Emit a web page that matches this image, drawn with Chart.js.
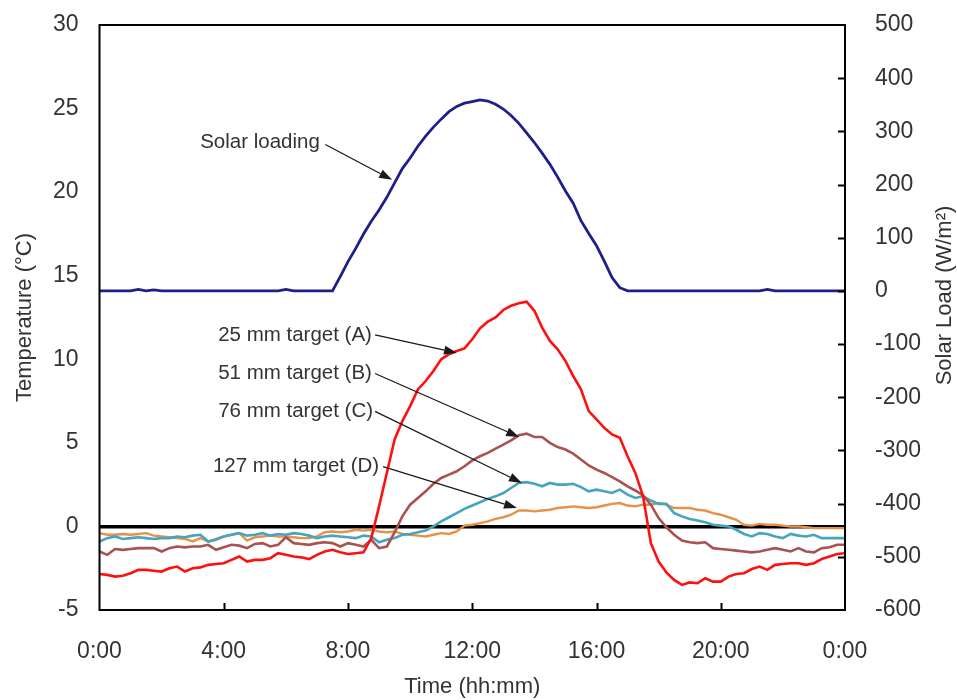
<!DOCTYPE html>
<html>
<head>
<meta charset="utf-8">
<title>Temperature and solar load</title>
<script src="https://cdn.jsdelivr.net/npm/chart.js@4.4.1/dist/chart.umd.min.js"></script>
<style>
  html, body { margin: 0; padding: 0; background: #fff; }
  #grafico { display: block; }
</style>
</head>
<body>
<canvas id="grafico" width="957" height="700"></canvas>
<script>
// time of day in hours, one reading every 15 minutes
const horas = [
    0, 0.25, 0.5, 0.75, 1, 1.25, 1.5, 1.75, 2, 2.25, 2.5, 2.75,
    3, 3.25, 3.5, 3.75, 4, 4.25, 4.5, 4.75, 5, 5.25, 5.5, 5.75,
    6, 6.25, 6.5, 6.75, 7, 7.25, 7.5, 7.75, 8, 8.25, 8.5, 8.75,
    9, 9.25, 9.5, 9.75, 10, 10.25, 10.5, 10.75, 11, 11.25, 11.5, 11.75,
    12, 12.25, 12.5, 12.75, 13, 13.25, 13.5, 13.75, 14, 14.25, 14.5, 14.75,
    15, 15.25, 15.5, 15.75, 16, 16.25, 16.5, 16.75, 17, 17.25, 17.5, 17.75,
    18, 18.25, 18.5, 18.75, 19, 19.25, 19.5, 19.75, 20, 20.25, 20.5, 20.75,
    21, 21.25, 21.5, 21.75, 22, 22.25, 22.5, 22.75, 23, 23.25, 23.5, 23.75,
    24
];

// 25 mm target (A), temperature in °C
const targetA = [
    -2.85, -2.9, -3.0, -2.95,   -2.8, -2.6, -2.6, -2.65,   -2.7, -2.5, -2.4, -2.7,
    -2.5, -2.45, -2.3, -2.25,   -2.2, -2.0, -1.8, -2.1,    -2.0, -2.0, -1.9, -1.6,
    -1.7, -1.8, -1.85, -1.95,   -1.7, -1.5, -1.4, -1.55,   -1.65, -1.6, -1.55, -0.7,
    1.2, 3.2, 5.2, 6.3,         7.2, 8.2, 8.7, 9.3,        10.0, 10.3, 10.5, 10.65,
    11.2, 11.85, 12.25, 12.5,   12.95, 13.2, 13.35, 13.45, 12.9, 11.9, 11.1, 10.6,
    9.9, 9.0, 8.2, 6.9,         6.4, 5.9, 5.5, 5.3,        4.2, 3.2, 1.8, -1.0,
    -2.1, -2.75, -3.2, -3.5,    -3.35, -3.4, -3.1, -3.3,   -3.3, -3.0, -2.85, -2.8,
    -2.55, -2.4, -2.6, -2.3,    -2.25, -2.2, -2.2, -2.3,   -2.2, -1.95, -1.8, -1.65,
    -1.6
];

// 51 mm target (B)
const targetB = [
    -1.5, -1.7, -1.35, -1.4,    -1.35, -1.3, -1.3, -1.3,   -1.5, -1.3, -1.2, -1.25,
    -1.2, -1.2, -1.1, -1.4,     -1.25, -1.1, -1.15, -1.3,  -1.05, -1.0, -1.2, -1.1,
    -0.65, -1.0, -1.05, -1.1,   -1.0, -0.95, -1.0, -1.2,   -1.0, -1.1, -1.2, -0.8,
    -1.3, -1.2, -0.35, 0.6,     1.3, 1.7, 2.1, 2.55,       2.9, 3.1, 3.3, 3.6,
    3.95, 4.2, 4.4, 4.65,       4.9, 5.15, 5.45, 5.55,     5.35, 5.35, 5.0, 4.75,
    4.6, 4.35, 4.0, 3.65,       3.4, 3.2, 2.95, 2.7,       2.4, 2.15, 1.85, 1.3,
    0.5, -0.05, -0.5, -0.85,    -0.95, -1.0, -0.95, -1.3,  -1.35, -1.4, -1.45, -1.5,
    -1.55, -1.5, -1.4, -1.3,    -1.4, -1.5, -1.3, -1.5,    -1.55, -1.3, -1.25, -1.1,
    -1.1
];

// 76 mm target (C)
const targetC = [
    -0.9, -0.7, -0.6, -0.75,    -0.7, -0.65, -0.7, -0.75,  -0.7, -0.7, -0.6, -0.65,
    -0.55, -0.5, -0.9, -0.8,    -0.6, -0.5, -0.4, -0.55,   -0.5, -0.4, -0.55, -0.45,
    -0.5, -0.4, -0.45, -0.55,   -0.7, -0.6, -0.55, -0.6,   -0.65, -0.7, -0.55, -0.6,
    -0.95, -0.8, -0.7, -0.5,    -0.45, -0.35, -0.25, 0.0,  0.3, 0.55, 0.8, 1.05,
    1.25, 1.45, 1.65, 1.8,      2.0, 2.3, 2.6, 2.65,       2.55, 2.4, 2.6, 2.5,
    2.5, 2.55, 2.35, 2.1,       2.2, 2.1, 2.0, 2.2,        1.9, 1.7, 1.8, 1.55,
    1.35, 1.35, 0.8, 0.6,       0.45, 0.35, 0.25, 0.1,     0.05, 0.0, -0.2, -0.45,
    -0.6, -0.4, -0.45, -0.6,    -0.7, -0.45, -0.55, -0.6,  -0.5, -0.7, -0.7, -0.7,
    -0.7
];

// 127 mm target (D)
const targetD = [
    -0.4, -0.5, -0.5, -0.45,    -0.5, -0.45, -0.4, -0.55,  -0.6, -0.65, -0.7, -0.75,
    -0.9, -0.7, -0.9, -0.75,    -0.6, -0.5, -0.4, -0.85,   -0.65, -0.6, -0.55, -0.6,
    -0.6, -0.65, -0.7, -0.7,    -0.6, -0.35, -0.3, -0.35,  -0.3, -0.2, -0.25, -0.2,
    -0.3, -0.35, -0.3, -0.45,   -0.5, -0.55, -0.6, -0.5,   -0.4, -0.45, -0.3, 0.05,
    0.1, 0.2, 0.3, 0.45,        0.55, 0.7, 0.95, 0.95,     0.9, 0.95, 1.0, 1.1,
    1.15, 1.2, 1.15, 1.1,       1.15, 1.25, 1.35, 1.4,     1.25, 1.2, 1.3, 1.3,
    1.4, 1.3, 1.1, 1.1,         1.1, 1.0, 0.95, 0.8,       0.7, 0.55, 0.4, 0.1,
    0.05, 0.15, 0.1, 0.1,       0.05, 0.0, 0.0, -0.05,     -0.1, -0.1, -0.1, -0.1,
    -0.1
];

// solar loading, W/m²
const cargaSolar = [
    0, 0, 0, 0,         0, 3, 0, 2,         0, 0, 0, 0,
    0, 0, 0, 0,         0, 0, 0, 0,         0, 0, 0, 0,
    3, 0, 0, 0,         0, 0, 0, 27,        55, 80, 107, 131,
    152, 176, 203, 230, 250, 272, 291, 308, 323, 337, 347, 353,
    356, 359, 357, 351, 342, 330, 315, 297, 279, 259, 238, 214,
    188, 165, 132, 108, 85, 56, 25, 6,      0, 0, 0, 0,
    0, 0, 0, 0,         0, 0, 0, 0,         0, 0, 0, 0,
    0, 0, 3, 0,         0, 0, 0, 0,         0, 0, 0, 0,
    0
];

const ticksTemperatura = [-5, 0, 5, 10, 15, 20, 25, 30];
const ticksSolar = [-600, -500, -400, -300, -200, -100, 0, 100, 200, 300, 400, 500];
const ticksHoras = [0, 4, 8, 12, 16, 20, 24];

// callouts: text position, arrow start, arrow tip (hours, °C)
const notas = [
    { texto: 'Solar loading',     en: [3.24, 22.95], desde: [7.27, 22.85], hasta: [9.42, 20.74] },
    { texto: '25 mm target (A)',  en: [3.82, 11.46], desde: [8.87, 11.46], hasta: [11.51, 10.38] },
    { texto: '51 mm target (B)',  en: [3.82, 9.18],  desde: [8.87, 9.15],  hasta: [13.51, 5.35] },
    { texto: '76 mm target (C)',  en: [3.82, 6.9],   desde: [8.87, 6.88],  hasta: [13.6, 2.6] },
    { texto: '127 mm target (D)', en: [3.65, 3.6],   desde: [9.13, 3.58],  hasta: [13.44, 1.1] }
];

const FUENTE = "'Liberation Sans', Arial, sans-serif";
Chart.defaults.font.family = FUENTE;

function puntos(valores) {
    return horas.map((h, i) => ({ x: h, y: valores[i] }));
}

function flecha(ctx, x1, y1, x2, y2) {
    const ang = Math.atan2(y2 - y1, x2 - x1);
    const largo = 13, ancho = 4.5;
    const bx = x2 - largo * Math.cos(ang);
    const by = y2 - largo * Math.sin(ang);
    ctx.beginPath();
    ctx.moveTo(x1, y1);
    ctx.lineTo(bx, by);
    ctx.stroke();
    ctx.beginPath();
    ctx.moveTo(x2, y2);
    ctx.lineTo(bx + ancho * Math.sin(ang), by - ancho * Math.cos(ang));
    ctx.lineTo(bx - ancho * Math.sin(ang), by + ancho * Math.cos(ang));
    ctx.closePath();
    ctx.fill();
}

// callout texts and arrows
const pluginNotas = {
    id: 'notas',
    afterDatasetsDraw(chart) {
        const ctx = chart.ctx;
        const sx = chart.scales.x, sy = chart.scales.y;
        ctx.save();
        ctx.font = '20.5px ' + FUENTE;
        ctx.textAlign = 'left';
        ctx.textBaseline = 'middle';
        notas.forEach(n => {
            ctx.fillStyle = '#333';
            ctx.fillText(n.texto, sx.getPixelForValue(n.en[0]), sy.getPixelForValue(n.en[1]));
            ctx.strokeStyle = '#1a1a1a';
            ctx.fillStyle = '#1a1a1a';
            ctx.lineWidth = 1.3;
            flecha(ctx,
                sx.getPixelForValue(n.desde[0]), sy.getPixelForValue(n.desde[1]),
                sx.getPixelForValue(n.hasta[0]), sy.getPixelForValue(n.hasta[1]));
        });
        ctx.restore();
    }
};

// plot frame, inward tick marks and the right axis title
const pluginMarco = {
    id: 'marco',
    afterDraw(chart) {
        const ctx = chart.ctx;
        const a = chart.chartArea;
        const sx = chart.scales.x, s2 = chart.scales.y2;
        ctx.save();
        ctx.strokeStyle = '#000';
        ctx.lineWidth = 2;
        ctx.strokeRect(a.left, a.top, a.right - a.left, a.bottom - a.top);
        ctx.beginPath();
        ticksHoras.slice(1, -1).forEach(h => {
            const px = Math.round(sx.getPixelForValue(h)) + 0.5;
            ctx.moveTo(px, a.bottom);
            ctx.lineTo(px, a.bottom - 7);
        });
        ticksSolar.slice(1, -1).forEach(v => {
            const py = Math.round(s2.getPixelForValue(v)) + 0.5;
            ctx.moveTo(a.right, py);
            ctx.lineTo(a.right - 7, py);
        });
        ctx.stroke();

        ctx.translate(chart.width - 12, (a.top + a.bottom) / 2 - 22);
        ctx.rotate(-Math.PI / 2);
        ctx.font = '22px ' + FUENTE;
        ctx.fillStyle = '#333';
        ctx.textAlign = 'center';
        ctx.textBaseline = 'middle';
        ctx.fillText('Solar Load (W/m²)', 0, 0);
        ctx.restore();
    }
};

function serie(nombre, valores, color, eje, grosor) {
    return {
        label: nombre,
        data: puntos(valores),
        yAxisID: eje,
        borderColor: color,
        backgroundColor: color,
        borderWidth: grosor,
        pointRadius: 0,
        tension: 0,
        fill: false
    };
}

function anchoFijo(ancho) {
    return s => {
        s.width = ancho;
        s.paddingTop = 0;
        s.paddingBottom = 0;
    };
}

const ctx = document.getElementById('grafico').getContext('2d');
new Chart(ctx, {
    type: 'line',
    data: {
        datasets: [
            serie('25 mm target (A)', targetA, '#ff1010', 'y', 2.6),
            serie('51 mm target (B)', targetB, '#a9524f', 'y', 2.6),
            serie('76 mm target (C)', targetC, '#47a4bf', 'y', 2.6),
            serie('127 mm target (D)', targetD, '#e5914a', 'y', 2.4),
            serie('Solar loading', cargaSolar, '#1f1f8a', 'y2', 2.8)
        ]
    },
    options: {
        responsive: false,
        animation: false,
        devicePixelRatio: 1,
        layout: { padding: { top: 25, left: 0, right: 0, bottom: 0 } },
        plugins: {
            legend: { display: false },
            tooltip: { enabled: false }
        },
        scales: {
            x: {
                type: 'linear',
                min: 0,
                max: 24,
                afterBuildTicks: s => { s.ticks = ticksHoras.map(v => ({ value: v })); },
                afterFit: s => { s.height = 90; },
                grid: { display: false },
                border: { display: false },
                ticks: {
                    color: '#333',
                    padding: 20,
                    maxRotation: 0,
                    font: { size: 23 },
                    callback: v => (v % 24) + ':00'
                },
                title: {
                    display: true,
                    text: 'Time (hh:mm)',
                    color: '#333',
                    font: { size: 22 },
                    padding: { top: 0, bottom: 0 }
                }
            },
            y: {
                position: 'left',
                min: -5,
                max: 30,
                afterBuildTicks: s => { s.ticks = ticksTemperatura.map(v => ({ value: v })); },
                afterFit: anchoFijo(99.5),
                border: { display: false },
                grid: {
                    drawTicks: false,
                    color: c => (c.tick && c.tick.value === 0) ? '#000' : 'rgba(0,0,0,0)',
                    lineWidth: c => (c.tick && c.tick.value === 0) ? 3.5 : 0
                },
                ticks: {
                    color: '#333',
                    padding: 21,
                    font: { size: 23 }
                },
                title: {
                    display: true,
                    text: 'Temperature (°C)',
                    color: '#333',
                    font: { size: 22 },
                    padding: { top: 12, bottom: 0 }
                }
            },
            y2: {
                position: 'right',
                min: -600,
                max: 500,
                afterBuildTicks: s => { s.ticks = ticksSolar.map(v => ({ value: v })); },
                afterFit: anchoFijo(112),
                border: { display: false },
                grid: { display: false },
                ticks: {
                    color: '#333',
                    padding: 22,
                    font: { size: 23 }
                }
            }
        }
    },
    plugins: [pluginNotas, pluginMarco]
});
</script>
</body>
</html>
